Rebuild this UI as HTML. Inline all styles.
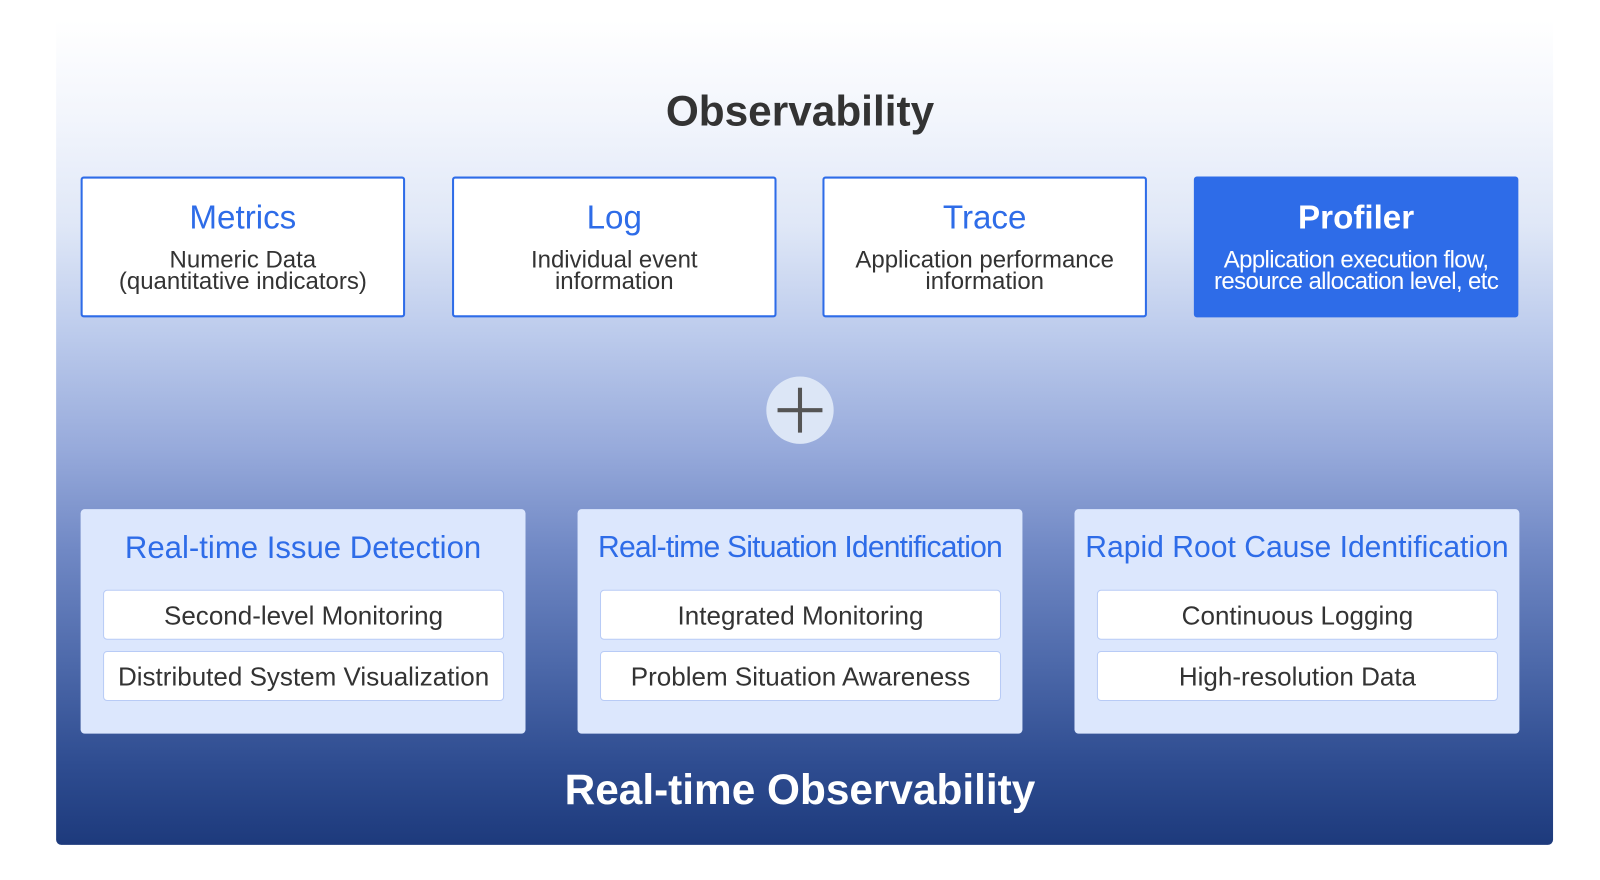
<!DOCTYPE html>
<html><head><style>
body{margin:0;width:1600px;height:879px;background:#fff;font-family:"Liberation Sans",sans-serif;overflow:hidden}
#w{position:absolute;left:0;top:0;width:1568px;height:862px;transform:scale(1.0204);transform-origin:0 0}
.panel{position:absolute;left:55px;top:20px;width:1467px;height:808px;border-radius:0 0 5px 5px;
background:linear-gradient(to bottom,#ffffff 0%,#f2f5fc 12%,#dfe7f7 25%,#bccbec 38%,#97aadb 52%,#7189c5 64%,#4d69aa 78%,#2f4d91 90%,#1d3a7c 100%)}
.t{position:absolute;left:0;width:1568px;text-align:center;font-weight:bold;font-size:41.5px}
.top{position:absolute;top:173px;width:314px;height:134px;border:2px solid #2e6ce8;border-radius:3px;background:#fff;text-align:center}
.top h3{margin:19px 0 0;font-weight:normal;font-size:32.5px;color:#2e6ce8;line-height:38px}
.top p{margin:12px 0 0;font-size:23.5px;line-height:21px;color:#333}
.bot{position:absolute;top:499px;width:436px;height:220px;background:#dce7fd;border-radius:4px;text-align:center}
.bot h3{margin:19px 0 0;font-weight:normal;font-size:30.5px;color:#2e6ce8;line-height:38px;white-space:nowrap}
.row{position:absolute;left:22px;width:391px;height:47px;background:#fff;border:1px solid #b8cbf6;border-radius:4px;font-size:25.5px;line-height:50px;color:#333;white-space:nowrap}
</style></head><body><div id="w">
<div class="panel"></div>
<div class="t" style="top:85px;color:#333">Observability</div>
<div class="top" style="left:79px"><h3>Metrics</h3><p>Numeric Data<br>(quantitative indicators)</p></div>
<div class="top" style="left:443px"><h3>Log</h3><p>Individual event<br>information</p></div>
<div class="top" style="left:806px"><h3>Trace</h3><p>Application performance<br>information</p></div>
<div class="top" style="left:1170px;background:#2e6ce8;border-color:#2e6ce8"><h3 style="color:#fff;font-weight:bold">Profiler</h3><p style="color:#fff;letter-spacing:-0.6px">Application execution flow,<br>resource allocation level, etc</p></div>
<svg style="position:absolute;left:750px;top:368px" width="68" height="68"><circle cx="34" cy="34" r="33" fill="#dce6f6"/><path d="M34 12V56M12 34H56" stroke="#555" stroke-width="4"/></svg>
<div class="bot" style="left:79px"><h3>Real-time Issue Detection</h3><div class="row" style="top:79px">Second-level Monitoring</div><div class="row" style="top:139px">Distributed System Visualization</div></div>
<div class="bot" style="left:566px"><h3 style="letter-spacing:-0.8px;font-size:29.5px">Real-time Situation Identification</h3><div class="row" style="top:79px">Integrated Monitoring</div><div class="row" style="top:139px">Problem Situation Awareness</div></div>
<div class="bot" style="left:1053px"><h3 style="font-size:29.5px">Rapid Root Cause Identification</h3><div class="row" style="top:79px">Continuous Logging</div><div class="row" style="top:139px">High-resolution Data</div></div>
<div class="t" style="top:750px;color:#fff">Real-time Observability</div>
</div></body></html>
